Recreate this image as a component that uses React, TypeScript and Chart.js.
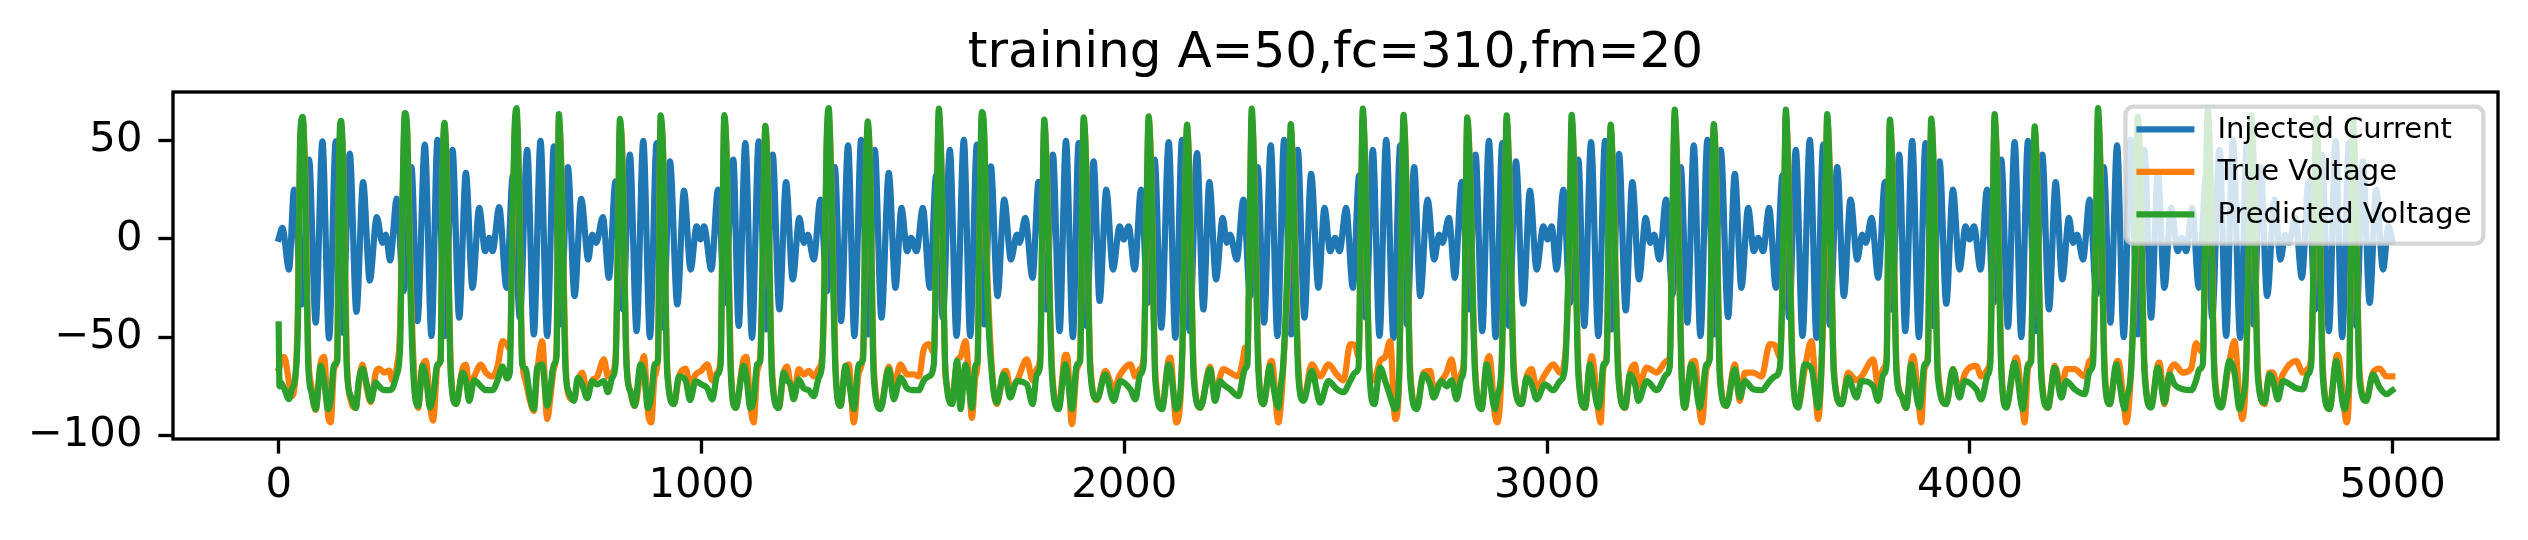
import React, { useEffect, useRef } from "react";
import { Chart, registerables } from "chart.js";

Chart.register(...registerables);

const TITLE = "training A=50,fc=310,fm=20";
const seriesLabels = ["Injected Current", "True Voltage", "Predicted Voltage"];
const seriesColors = ["#1f77b4", "#ff7f0e", "#2ca02c"];
const xTicks = [0, 1000, 2000, 3000, 4000, 5000];
const yTicks = [-100, -50, 0, 50];
const xLimits = [-249.95, 5248.95];
const yLimits = [-101.8, 74.7];

// Injected current: extrema
const currentX = [
  0, 8.7, 24.5, 36.3, 54.5, 71.8, 87.6, 103.4, 119.2, 135, 150.7, 168.1, 183.9, 199.7, 215.4, 232, 245.4, 253.3, 263.6, 279.3, 295.1, 314, 328.3, 345.6, 361.4, 375.6, 393, 411.1, 426.9, 442.7, 458.4, 474.2, 488.4, 497.9, 505.8, 521.5,
  538.8, 553.8, 570.4, 587.7, 603.5, 619.3, 635.1, 650.9, 666.6, 684, 699.8, 715.5, 732.1, 741.6, 751, 766.8, 781, 796.8, 814.2, 830.7, 846.5, 862.3, 878.1, 893.9, 909.6, 925.4, 942.8, 958.6, 974.3, 988.5, 998, 1005.9, 1023.3, 1039, 1054.8, 1075.3,
  1088, 1103.7, 1119.5, 1135.3, 1152.6, 1168.4, 1184.2, 1200, 1215.8, 1231.5, 1241.8, 1251.3, 1265.5, 1281.3, 1297, 1315.2, 1330.2, 1346.7, 1361.7, 1377.5, 1394, 1409.9, 1425.6, 1443, 1458.8, 1473, 1486.4, 1495.9, 1508.5, 1523.5, 1540, 1555, 1570.8, 1587.4, 1603.2, 1620.5,
  1635.5, 1651.3, 1668.6, 1684.4, 1700.2, 1716, 1731.8, 1746, 1752.3, 1765.7, 1783, 1797.2, 1815.4, 1831.2, 1847, 1862, 1878.5, 1891.9, 1910, 1927.4, 1941.6, 1957.4, 1973.2, 1989, 1998.4, 2010.3, 2024.5, 2039.5, 2056, 2071.8, 2087.6, 2105, 2120.7, 2136.5, 2154.7, 2172,
  2187, 2201.2, 2217, 2232.8, 2242.2, 2250.1, 2266, 2281.7, 2297.5, 2315.6, 2330.6, 2346.4, 2362.2, 2378, 2394.5, 2410.3, 2426, 2441.8, 2459.2, 2473.4, 2486.8, 2498.7, 2509, 2524.7, 2540.5, 2555.5, 2571.2, 2587.8, 2603.6, 2619.4, 2636.7, 2652.5, 2668.3, 2685.6, 2699.9, 2717.2, 2733,
  2744.8, 2752.7, 2767.7, 2781.9, 2797.7, 2815, 2830.8, 2846.6, 2862.4, 2878.2, 2894, 2909.7, 2926.3, 2943.6, 2959.4, 2975.2, 2991, 3001.2, 3010.7, 3022.5, 3038.3, 3054.1, 3073.8, 3088, 3103.8, 3121.2, 3137, 3152.7, 3170.1, 3185.9, 3201.6, 3217.4, 3233.2, 3243.5, 3253, 3265.6, 3281.3,
  3296.3, 3316, 3331.8, 3346.8, 3362.6, 3379.2, 3395, 3410.7, 3428, 3443.9, 3459.6, 3475.4, 3488.8, 3499.1, 3510.9, 3525.1, 3540.9, 3556.7, 3572.5, 3588.2, 3604, 3621.4, 3637.2, 3653, 3668.7, 3686.1, 3701.9, 3717.6, 3733.4, 3745.3, 3754, 3767.3, 3783.1, 3798.9, 3814.7, 3832.8,
  3847, 3863.5, 3879.3, 3895, 3912.4, 3928.2, 3944, 3959.8, 3975.5, 3989.7, 3999.2, 4009.5, 4025.2, 4040.2, 4056, 4074.2, 4090, 4105.7, 4121.5, 4137.3, 4154.6, 4171.2, 4187, 4202.8, 4218.5, 4234.3, 4243.8, 4253.3, 4267.5, 4283.2, 4299, 4316.4, 4332.2, 4348, 4363.7, 4380.3,
  4397, 4412.7, 4428.5, 4444.3, 4460, 4475.8, 4491.6, 4501.1, 4511.4, 4525.6, 4541.3, 4558.7, 4572.9, 4590.3, 4606, 4621.8, 4639.2, 4655, 4670.7, 4687.3, 4703, 4720.4, 4734.6, 4745.7, 4754.4, 4769.4, 4785.1, 4800.9, 4816.7, 4832.5, 4849, 4864.8, 4880.6, 4896.4, 4913.7, 4929.5, 4945.3, 4961, 4977, 4990, 4999,
];
const currentY = [
  0, 5.6, -15.6, 25, -33.3, 40.3, -42.6, 49.6, -50.6, 49.6, -47.7, 43.3, -37.1, 28.8, -21.2, 11, -2, 2.2, -11, 20.5, -26.6, 36.5, -41.8, 47.9, -49.4, 50.4, -49.4, 45.3, -40.1, 33.5, -24.9, 15.7, -6.3, 0.5, -6.3, 16.1,
  -24.9, 32.3, -40.1, 45.3, -48.6, 49.9, -49.4, 47, -43.5, 36.5, -29.1, 20.3, -10.5, 2.2, -2, 11, -19.8, 29.3, -35.9, 42.8, -46.9, 49.9, -50, 48.7, -45.2, 39.4, -33.3, 24.5, -15.6, 6.4, -0.3, 6.4, -15.6, 25, -32.5, 40.3,
  -44.3, 48.7, -50.3, 49.6, -46, 42.8, -35.9, 28.8, -20.6, 10.7, -2, 2.2, -10.5, 20, -26.6, 36.5, -41.8, 47.5, -49.4, 50.4, -48.6, 45.3, -40.1, 33.5, -24.9, 15.7, -6.3, 0.5, -6.3, 15.7, -24.9, 32.3, -40.1, 45.3, -49.4, 50.4,
  -49.4, 47.9, -43.5, 36.9, -29.1, 20, -10.5, 2.2, -2, 10.7, -19.8, 29, -35.9, 42.8, -46.9, 49.9, -50, 48.7, -44.3, 39.4, -31.6, 25, -15.6, 6.4, -0.3, 6.4, -15.6, 25, -32.5, 40.3, -45.2, 49.2, -50.3, 50.4, -46.9, 43.6,
  -35.9, 28.8, -20.6, 10.7, -2, 2.2, -10.5, 20, -29.1, 36.5, -42.6, 47.5, -49.4, 50.4, -48.6, 45.3, -40.1, 33, -24.9, 15.7, -6.3, 0.5, -6.3, 15.7, -24.9, 32.3, -40.1, 45.3, -49.4, 50.4, -50.3, 47.5, -43.5, 36.5, -29.1, 20, -10.5,
  2.2, -2, 10.7, -19.8, 29, -35.9, 42.8, -46.9, 49.9, -50, 48.7, -44.3, 39.4, -33, 24.5, -15.6, 6.4, -0.3, 6.4, -15.6, 25, -32.5, 40.3, -44.3, 49.2, -49.4, 49.9, -46, 43.2, -36.4, 28.8, -20.6, 10.7, -2, 2.2, -10.5, 20,
  -28.3, 36.5, -42.6, 47.5, -49.4, 50.4, -48.6, 45.3, -39.8, 33, -24.9, 15.7, -6.3, 0.5, -6.3, 15.7, -24.9, 32.3, -40.1, 45.3, -49.4, 50.4, -50.3, 47.9, -43.8, 36.5, -29.1, 20, -10.5, 2.2, -2, 10.7, -19.8, 29, -35.9, 42.8,
  -46.9, 49.9, -50, 48.7, -44.3, 39.4, -33, 25, -15.6, 6.4, -0.3, 6.4, -15.6, 25, -32.5, 40.3, -44.8, 49.2, -50, 49.9, -46.9, 42.8, -35.9, 28.8, -20.6, 10.7, -2, 2.2, -10.5, 20, -28.3, 36.5, -42.6, 47.5, -50, 50.4,
  -48.6, 45.3, -40.1, 33, -24.9, 15.7, -6.3, 0.5, -6.3, 15.7, -24.9, 32.3, -40.1, 45.3, -49.4, 50.4, -50.3, 47.9, -43.5, 36.5, -29.1, 20, -10.5, 2.2, -2, 10.7, -19.8, 29, -35.9, 42.8, -46.9, 49.9, -50, 48.7, -44.3, 39.4, -32.5, 25, -15.6, 6.4, -1,
];

// Voltages: sample positions shared by true and predicted voltage
const voltageX = [
  0, 2, 4.8, 12.7, 24.5, 30, 40.3, 45.8, 50.5, 56.8,
  63.2, 69.5, 77.4, 87.6, 99.4, 107.3, 116.8, 123.1, 131, 138.9,
  142.8, 147.6, 153.1, 161, 170.5, 182.3, 190.2, 198.1, 208.3, 217.8,
  229.6, 237.5, 249.4, 261.2, 269.1, 279.3, 287.2, 292.8, 298.3, 303,
  310.9, 318.8, 329.8, 340.1, 348, 358.2, 365.3, 375.6, 383.5, 387.4,
  392.2, 397.7, 407.2, 419.8, 434.8, 442.7, 450.6, 462.4, 478.2, 490,
  505.8, 517.6, 529.5, 540.4, 546.7, 552.2, 557.7, 562.5, 568, 575.9,
  583.8, 594, 603.5, 611.4, 623.2, 635.1, 643, 650.9, 657.2, 662.7,
  668.2, 678.5, 686.4, 698.2, 707.7, 717.9, 729.8, 741.6, 753.4, 769.2,
  778.7, 788.9, 796.8, 802.3, 807.1, 812.6, 822.9, 832.3, 841.8, 856,
  863.9, 873.4, 881.2, 889.1, 897, 903.3, 909.6, 919.1, 934.9, 946.7,
  962.5, 972.8, 986.2, 999.6, 1013.8, 1025.6, 1037.5, 1045.4, 1049.3, 1054,
  1059.6, 1069, 1080.9, 1099.8, 1106, 1115.6, 1123.5, 1131.3, 1139.2, 1145.5,
  1151, 1156.6, 1166.8, 1182.6, 1194.5, 1202.4, 1210.2, 1218.1, 1230, 1241.8,
  1253.6, 1265.5, 1277.3, 1285.2, 1290.7, 1296, 1301, 1306.5, 1316.8, 1328.6,
  1340.4, 1348.3, 1360.2, 1372, 1382.2, 1387.8, 1393.3, 1398, 1407.5, 1423.3,
  1443, 1454.8, 1470.6, 1486.4, 1502.2, 1514, 1525.8, 1537.7, 1549.5, 1555.8,
  1561.3, 1566.9, 1577.1, 1592.9, 1604.7, 1612.6, 1624.5, 1632.4, 1639.4, 1648,
  1652.9, 1657.6, 1663.1, 1668.6, 1675, 1686.8, 1698.6, 1714.4, 1720.7, 1730.2,
  1746, 1769.6, 1783, 1793.3, 1801.2, 1805.9, 1810.7, 1816.2, 1828.8, 1844.6,
  1860.4, 1864.3, 1876.1, 1888, 1895.9, 1899.8, 1903.8, 1909.3, 1919.5, 1935.3,
  1955, 1974.8, 1990.6, 2014.2, 2026.1, 2037.9, 2045.8, 2052.1, 2057.6, 2063.1,
  2073.4, 2089.2, 2105, 2108.9, 2123.1, 2136.5, 2142.8, 2148.4, 2153.9, 2164.1,
  2179.9, 2202.8, 2214.6, 2226.5, 2234.3, 2250.1, 2269.8, 2281.7, 2285.6, 2291.1,
  2296.7, 2301.4, 2306.9, 2317.2, 2329, 2344.8, 2348.7, 2364.5, 2370, 2376.4,
  2389, 2393.7, 2399.2, 2411.9, 2423.7, 2443.4, 2463.2, 2482.9, 2502.6, 2518.4,
  2534.2, 2546, 2553.9, 2559.4, 2564.1, 2569.7, 2579.9, 2591, 2605.2, 2617,
  2628.8, 2640.7, 2650.9, 2655.7, 2660.4, 2665.9, 2676.2, 2692, 2707.7, 2723.5,
  2731.4, 2750.3, 2762.2, 2774, 2785.8, 2797.7, 2803.2, 2807.1, 2811.1, 2816.6,
  2829.2, 2845, 2856.9, 2863.2, 2876.6, 2882.1, 2892.4, 2899.5, 2904.2, 2909.7,
  2921.5, 2939.7, 2951.5, 2963.4, 2975.2, 2994.9, 3014.7, 3030.4, 3042.3, 3053.3,
  3058.1, 3063.6, 3073.8, 3089.6, 3101.4, 3105.4, 3121.2, 3126.7, 3133, 3140.9,
  3145.6, 3150.4, 3155.9, 3168.5, 3184.3, 3196.1, 3208, 3215.8, 3235.6, 3259.2,
  3282.9, 3290, 3296.3, 3301.8, 3307.4, 3317.6, 3325.5, 3341.3, 3349.2, 3361,
  3366.5, 3376.8, 3384.7, 3389.4, 3394.1, 3399.7, 3408.4, 3424.1, 3443.9, 3455.7,
  3467.5, 3487.3, 3507, 3526.7, 3538.5, 3550.4, 3559.8, 3564.6, 3570.1, 3580.4,
  3593.8, 3609.5, 3625.3, 3641.1, 3649, 3657.7, 3662.4, 3667.9, 3678.2, 3696.3,
  3712.1, 3731.8, 3743.7, 3771.3, 3783.1, 3795, 3802.9, 3806.8, 3810.7, 3816.3,
  3826.5, 3838.4, 3849.3, 3861.1, 3865.1, 3880.9, 3884.8, 3892.7, 3900.6, 3904.5,
  3908.5, 3914, 3924.2, 3944, 3959.8, 3975.5, 3987.4, 4015, 4026.8, 4042.6,
  4048.1, 4053.6, 4058.4, 4063.9, 4074.2, 4086, 4105.7, 4109.7, 4125.4, 4129.4,
  4137.3, 4145.2, 4149.1, 4153.1, 4158.6, 4168.8, 4184.6, 4200.4, 4216.2, 4228,
  4247.7, 4271.4, 4283.2, 4291.1, 4298.2, 4303, 4308.5, 4318.8, 4330.6, 4346.4,
  4350.3, 4366.1, 4369.5, 4381.9, 4392.3, 4397, 4402.5, 4412.7, 4428.5, 4444.3,
  4448.2, 4460.1, 4471.9, 4483.7, 4503.5, 4523.2, 4535, 4542.9, 4550.8, 4557.1,
  4562.6, 4568.2, 4578.4, 4594.2, 4613.9, 4625.8, 4637.6, 4643.9, 4653.4, 4660.5,
  4665.2, 4670.7, 4681, 4696.8, 4708.6, 4716.5, 4728.3, 4740.2, 4771.7, 4787.5,
  4799.3, 4807.2, 4814.3, 4819.1, 4824.6, 4834.8, 4850.6, 4866.4, 4870.3, 4886.1,
  4891, 4898, 4901.9, 4905.9, 4911.4, 4921.6, 4937.4, 4953.2, 4969, 4985, 4999,
];
const trueVoltage = [
  -66, -65, -62, -60, -73, -80, -68, -30, 45, 60,
  30, -55, -75, -87, -63, -60, -90, -93.4, -66, -58,
  30, 58, 35, -60, -82, -86, -72, -64, -76, -83,
  -68, -66, -68, -67, -72, -65, -45, 15, 60, 58,
  -10, -62, -86, -65, -62, -85, -92.5, -65, -58, 25,
  57, 35, -66, -84, -66, -64, -75, -70, -64, -68,
  -70, -65, -52, -54, -56, -10, 50, 62, 35, -60,
  -72, -82, -87.5, -68, -52, -91.7, -80, -66, -55, 60,
  40, -62, -80, -82, -72, -68, -78, -72, -70, -61.3,
  -70, -68, -60, -5, 58, 45, -62, -78, -85, -68,
  -59.6, -88, -93.4, -70, -60, 60, 42, -66, -84, -70,
  -66, -74, -69, -67, -63.8, -72, -68, -60, -5, 60,
  42, -62, -86, -61, -60, -85, -93.4, -68, -58, -5,
  56, 35, -66, -86, -68, -65, -74, -80, -66.3, -69,
  -67.2, -70, -66, -60, -25, 45, 62, 35, -63, -85,
  -66, -63.8, -93.4, -68, -58, 15, 57, 42, -65, -86,
  -65, -75, -63.8, -69, -68.9, -70, -56, -53.6, -58, 0,
  62, 42, -70, -80, -62, -60, -52, -70, -91, -70,
  -63, 0, 60, 50, -10, -66, -84, -68, -67.2, -76,
  -72.3, -61.3, -72, -66, -60, 0, 58, 40, -65, -85.8,
  -59, -59, -94.2, -66, -58, 0, 59, 42, -63, -82,
  -67.2, -76, -68.9, -63.8, -70, -66, -60, 0, 60, 40,
  -68, -86, -61, -60.4, -93.4, -64, 0, 56, 35, -66,
  -86, -65, -80, -70, -66.3, -68, -70, -60, -55.3, -58,
  0, 62, 40, -63, -84, -63, -62.1, -93.4, -85, -64,
  0, 56, 35, -66, -82, -63.8, -70, -63.8, -69, -72,
  -53.6, -54, -60, 0, 62, 40, -66, -72, -62, -60,
  -52, -91.7, -66, 0, 60, 40, -66, -86, -68, -67.2,
  -76, -72, -68, -61.3, -75, -68, -60, 0, 60, 42,
  -63, -86, -63, -59.6, -90, -93.4, -66, 0, 60, 40,
  -66, -84, -70, -66.3, -76, -68.9, -63.8, -68, -60, 0,
  60, 40, -65, -86, -63, -59.6, -88, -93.4, -66, -58,
  0, 56, 35, -66, -86, -68, -63.8, -75, -65.5, -68,
  -62, -60, 0, 62, 40, -63, -86, -63, -62.1, -88,
  -93.4, -66, -58, 0, 56, 35, -66, -85, -63.8, -82.4,
  -68, -68, -70, -53.6, -54, -60, 0, 62, 40, -63,
  -85, -66, -52, -91.7, -66, 0, 60, 40, -66, -84,
  -68, -72, -70, -61.3, -75, -66, -60, 0, 58, 40,
  -65, -80, -86, -62, -59.6, -88, -93.4, -66, -58, 0,
  59, 40, -66, -84, -66.3, -78, -68.9, -64.6, -70, -66,
  -60, 0, 60, 40, -63, -85, -62, -60.4, -88, -93.4,
  -66, -58, 0, 55, 35, -66, -86, -64.6, -76, -66.3,
  -66.3, -70, -62, -58, 0, 62, 40, -66, -84, -63,
  -62.1, -88, -93.4, -64, 0, 60, 40, -63, -85, -64,
  -63, -84.1, -68, -63.8, -68, -66, -53, -56, -58, 0,
  62, 40, -66, -85, -62, -52, -82, -91.7, -66, 0,
  60, 40, -66, -84, -68, -68, -76, -68.9, -62.1, -68,
  -66, -60, 0, 59, 40, -66, -86, -60, -59, -88,
  -93.4, -66, 0, 57, 35, -68, -82, -68, -66, -70, -70,
];
const predictedVoltage = [
  -43.5, -75, -73, -76, -81.5, -77, -68, -40, 50, 62,
  20, -62, -78, -86.6, -64.6, -72, -86.6, -82, -64, -62,
  40, 60, 30, -65, -80, -86, -71, -66, -74, -82.4,
  -73, -75, -77, -77, -76, -69, -55, 20, 64, 60,
  -20, -70, -85, -64.6, -70, -85.8, -80, -63.8, -62, 30,
  59, 30, -70, -84, -68, -72, -82.4, -72, -75, -77,
  -77, -72, -65, -71, -68, 0, 55, 66.5, 30, -63.8,
  -66, -80, -86.6, -65.5, -64, -85, -75, -63.8, -60, 63.4,
  35, -67, -78, -82.4, -70.6, -74, -81, -72.3, -74, -72.3,
  -78, -70.6, -63.8, 0, 61, 40, -65.5, -78, -85, -63.8,
  -68, -86, -80, -63.8, -62, 62.8, 40, -69, -84, -70,
  -72, -82, -72.3, -74, -76, -81.6, -69, -63.8, 0, 63,
  40, -67, -86, -64.6, -70, -86, -82, -63.8, -62, 0,
  57.5, 30, -70.6, -86, -68, -72, -74, -81.6, -71.5, -76,
  -77, -80, -70.6, -63.8, -20, 50, 66.5, 30, -67.2, -85,
  -64.6, -72, -86.6, -63.8, -61.3, 20, 59.7, 40, -70.6, -86.6,
  -66.3, -81.6, -70.6, -76, -77, -77, -72, -70, -63.8, 10,
  66.2, 40, -67.2, -84, -62, -86.6, -64, -75, -86, -64,
  -63, 10, 64.5, 55, -20, -68.9, -83.3, -68.9, -72, -80.7,
  -72.3, -74, -84, -68.9, -63.8, 10, 60.6, 35, -68.9, -86.6,
  -63.8, -67, -86.6, -63.8, -62, 10, 61.8, 40, -67.2, -81.6,
  -68.9, -82.4, -72.3, -76.5, -81.6, -68.9, -63.8, 10, 62.3, 35,
  -72.3, -86.6, -63.8, -66, -86.6, -62.1, 10, 58.1, 30, -70.6,
  -85.8, -66.3, -82.4, -72.3, -74, -76.5, -80, -68.9, -66, -63.8,
  10, 66.2, 35, -67.2, -84, -64.6, -70, -85.8, -75, -62.1,
  10, 58.4, 30, -70.6, -82.4, -67.2, -83.3, -72.3, -76.5, -78,
  -72.3, -68, -65.5, 10, 66.2, 35, -68.9, -84.1, -65.5, -72.3,
  -80, -86.6, -63.8, 10, 63.1, 35, -70.6, -86.6, -68.9, -74,
  -80.7, -72.3, -75, -72, -81.6, -70.6, -65.5, 10, 61.8, 40,
  -67.2, -86.6, -63.8, -70, -86.6, -80, -63.8, 10, 62.8, 35,
  -70.6, -84.1, -70.6, -74, -81.6, -74, -77, -72.3, -65.5, 10,
  63.1, 35, -68.9, -85.8, -63.8, -68, -85.8, -80, -63.8, -62.1,
  10, 58.1, 30, -70.6, -85.8, -68.9, -74, -82.4, -72.3, -77,
  -68.9, -65, 10, 65.7, 35, -67.2, -85.8, -63.8, -70, -85.8,
  -80, -63.8, -61.3, 10, 58.4, 30, -70.6, -85, -66.3, -80.7,
  -72.3, -76.5, -77, -72.3, -70, -65.5, 10, 65.7, 35, -67.2,
  -85.8, -63.8, -66, -85.8, -63.8, 10, 63.4, 35, -68.9, -84.1,
  -70.6, -80.7, -72.3, -75, -82.4, -68.9, -63.8, 10, 60.6, 35,
  -68.9, -80, -86, -63.8, -68, -85.8, -80, -63.8, -62.1, 10,
  61.1, 35, -70.6, -84.1, -66.3, -80.7, -72.3, -76.5, -81.6, -68.9,
  -63.8, 10, 63.4, 35, -67.2, -85.8, -63, -66, -86.6, -80,
  -63.8, -62.1, 10, 57.2, 30, -70.6, -85.8, -65.5, -80.7, -72.3,
  -76.5, -79, -67.2, -63.8, 10, 66.5, 35, -70.6, -84.1, -63.8,
  -68, -86.6, -82, -63.8, 10, 62, 35, -67.2, -85.8, -65.5,
  -68, -83.3, -68.9, -74, -76.5, -77, -72, -66.3, -63.8, 10,
  65.7, 35, -70.6, -85.8, -62.1, -68, -86.6, -82, -63.8, 10,
  63, 35, -70.6, -83.3, -68.9, -72, -81.6, -72.3, -76, -76.5,
  -68.9, -63.8, 10, 61.4, 35, -70.6, -86.6, -62.1, -66, -86.6,
  -82, -63.8, 10, 59.7, 30, -72.3, -82.4, -68.9, -75.6, -79, -77,
];

const fmtTick = (v: number) => (v < 0 ? "\u2212" + Math.abs(v) : String(v));

function toPoints(xs: number[], ys: number[]) {
  const n = Math.min(xs.length, ys.length);
  const out: { x: number; y: number }[] = [];
  for (let i = 0; i < n; i++) out.push({ x: xs[i], y: ys[i] });
  return out;
}

const mplDecor = {
  id: "mplDecor",
  afterDraw(chart: any) {
    const { ctx, chartArea: a } = chart;
    ctx.save();
    // title
    ctx.fillStyle = "#000";
    ctx.font = '50px "DejaVu Sans"';
    ctx.textAlign = "center";
    ctx.textBaseline = "alphabetic";
    ctx.fillText(TITLE, (a.left + a.right) / 2, a.top - 25);
    // frame (spines)
    ctx.lineWidth = 3.33;
    ctx.strokeStyle = "#000";
    ctx.strokeRect(a.left, a.top, a.right - a.left, a.bottom - a.top);
    // legend
    const w = 358;
    const h = 137;
    const x0 = a.right - 14.6 - w;
    const y0 = a.top + 14.6;
    ctx.beginPath();
    if (ctx.roundRect) ctx.roundRect(x0, y0, w, h, 8);
    else ctx.rect(x0, y0, w, h);
    ctx.fillStyle = "rgba(255,255,255,0.8)";
    ctx.fill();
    ctx.lineWidth = 4.17;
    ctx.strokeStyle = "rgba(204,204,204,0.8)";
    ctx.stroke();
    ctx.font = '29px "DejaVu Sans"';
    ctx.textAlign = "left";
    ctx.textBaseline = "middle";
    chart.data.datasets.forEach((ds: any, i: number) => {
      const y = y0 + 22.7 + i * 42.5;
      ctx.beginPath();
      ctx.moveTo(x0 + 11, y);
      ctx.lineTo(x0 + 69, y);
      ctx.strokeStyle = ds.borderColor;
      ctx.lineWidth = 6.25;
      ctx.lineCap = "butt";
      ctx.stroke();
      ctx.fillStyle = "#000";
      ctx.fillText(ds.label, x0 + 92, y + 1);
    });
    ctx.restore();
  },
};

const tickFont = { family: "DejaVu Sans", size: 41.7, lineHeight: 1.2 };

export default function App() {
  const ref = useRef<HTMLCanvasElement>(null);
  useEffect(() => {
    document.body.style.margin = "0";
    const canvas = ref.current;
    if (!canvas) return;
    const common = {
      borderWidth: 6.25,
      pointRadius: 0,
      pointHoverRadius: 0,
      fill: false,
      cubicInterpolationMode: "monotone" as const,
      borderJoinStyle: "round" as const,
      borderCapStyle: "square" as const,
    };
    const chart = new Chart(canvas, {
      type: "line",
      data: {
        datasets: [
          { ...common, label: seriesLabels[0], data: toPoints(currentX, currentY), borderColor: seriesColors[0], backgroundColor: seriesColors[0], order: 3 },
          { ...common, label: seriesLabels[1], data: toPoints(voltageX, trueVoltage), borderColor: seriesColors[1], backgroundColor: seriesColors[1], order: 2 },
          { ...common, label: seriesLabels[2], data: toPoints(voltageX, predictedVoltage), borderColor: seriesColors[2], backgroundColor: seriesColors[2], order: 1 },
        ],
      },
      options: {
        animation: false,
        responsive: false,
        devicePixelRatio: 1,
        events: [],
        layout: { padding: { top: 92, right: 30, left: 0, bottom: 0 } },
        plugins: {
          legend: { display: false },
          title: { display: false },
          tooltip: { enabled: false },
        },
        scales: {
          x: {
            type: "linear",
            min: xLimits[0],
            max: xLimits[1],
            afterBuildTicks: (s: any) => {
              s.ticks = xTicks.map((v) => ({ value: v }));
            },
            afterFit: (s: any) => {
              s.height = 101;
            },
            grid: { display: true, drawOnChartArea: false, drawTicks: true, tickLength: 14.6, tickWidth: 3.33, tickColor: "#000" },
            border: { display: false },
            ticks: {
              autoSkip: false,
              maxRotation: 0,
              padding: 7.5,
              color: "#000",
              font: tickFont,
              callback: (v: any) => fmtTick(Number(v)),
            },
          },
          y: {
            type: "linear",
            min: yLimits[0],
            max: yLimits[1],
            afterBuildTicks: (s: any) => {
              s.ticks = yTicks.map((v) => ({ value: v }));
            },
            afterFit: (s: any) => {
              s.width = 173;
            },
            grid: { display: true, drawOnChartArea: false, drawTicks: true, tickLength: 14.6, tickWidth: 3.33, tickColor: "#000" },
            border: { display: false },
            ticks: {
              autoSkip: false,
              padding: 16,
              color: "#000",
              font: tickFont,
              callback: (v: any) => fmtTick(Number(v)),
            },
          },
        },
      },
      plugins: [mplDecor],
    } as any);
    return () => chart.destroy();
  }, []);
  return (
    <div style={{ width: 2528, height: 540, background: "#fff" }}>
      <canvas ref={ref} width={2528} height={540} style={{ display: "block", width: 2528, height: 540 }} />
    </div>
  );
}
